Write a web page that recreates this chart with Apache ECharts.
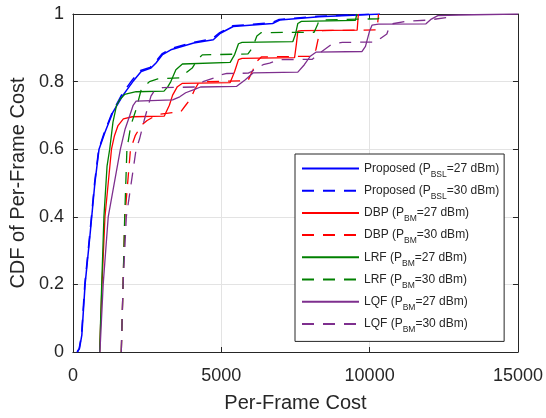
<!DOCTYPE html>
<html>
<head>
<meta charset="utf-8">
<script src="https://cdn.jsdelivr.net/npm/echarts@6/dist/echarts.min.js"></script>
<style>
  html, body { margin: 0; padding: 0; background: #fff; }
  #chart { width: 546px; height: 418px; }
</style>
</head>
<body>
<div id="chart"></div>
<script>
// tick values
const costTicks = [0, 5000, 10000, 15000];
const cdfTicks = [0, 0.2, 0.4, 0.6, 0.8, 1];

// CDF curves, [cost, cdf]
const proposed27 = [[150,0],[220,0.01],[300,0.05],[410,0.2],[580,0.35],[740,0.5],[880,0.6],[1080,0.65],[1350,0.71],[1690,0.76],[2020,0.8],[2300,0.83],[2630,0.84],[2800,0.855],[3020,0.88],[3300,0.894],[4070,0.914],[4730,0.924],[4970,0.943],[5400,0.963],[6730,0.972],[6970,0.982],[8300,0.992],[9630,0.997],[10350,1]];
const proposed30 = [[140,0],[210,0.01],[290,0.05],[400,0.2],[570,0.35],[730,0.5],[870,0.6],[1060,0.65],[1330,0.71],[1670,0.765],[2000,0.805],[2280,0.833],[2600,0.842],[2780,0.858],[3000,0.882],[3280,0.897],[4050,0.916],[4700,0.927],[4950,0.945],[5380,0.965],[6700,0.974],[6950,0.984],[8250,0.993],[9600,0.998],[10200,1]];
const dbp27 = [[900,0],[980,0.2],[1080,0.4],[1300,0.6],[1400,0.64],[1520,0.67],[1700,0.69],[2000,0.696],[3080,0.698],[3250,0.73],[3360,0.76],[3520,0.785],[3690,0.795],[5300,0.797],[5450,0.83],[5580,0.865],[5700,0.869],[7470,0.871],[7530,0.91],[7580,0.949],[7700,0.951],[9580,0.952],[9620,1]];
const dbp30 = [[1630,0],[1690,0.2],[1750,0.4],[1940,0.6],[2100,0.64],[2300,0.67],[2500,0.685],[2860,0.703],[3350,0.708],[3630,0.71],[3800,0.73],[3970,0.75],[4100,0.776],[4230,0.795],[4500,0.8],[5900,0.803],[6070,0.835],[6200,0.86],[6350,0.873],[8080,0.875],[8190,0.895],[8300,0.94],[8400,0.951],[10250,0.953],[10300,1]];
const lrf27 = [[900,0],[970,0.2],[1045,0.4],[1150,0.55],[1240,0.6],[1350,0.68],[1470,0.73],[1580,0.747],[1740,0.762],[2130,0.77],[3070,0.772],[3200,0.785],[3300,0.8],[3470,0.835],[3690,0.852],[5300,0.857],[5450,0.88],[5580,0.912],[5700,0.916],[7410,0.918],[7500,0.94],[7580,0.972],[7700,0.978],[9520,0.981],[9570,1]];
const lrf30 = [[1630,0],[1690,0.2],[1745,0.4],[1820,0.6],[1950,0.67],[2130,0.718],[2300,0.776],[2580,0.8],[2860,0.808],[3600,0.811],[3800,0.825],[4020,0.84],[4200,0.865],[4360,0.879],[5900,0.882],[6050,0.9],[6200,0.935],[6350,0.945],[8130,0.946],[8250,0.97],[8300,0.982],[10300,0.986],[10350,1]];
const lqf27 = [[910,0],[1020,0.2],[1190,0.4],[1600,0.6],[1760,0.66],[1910,0.698],[2030,0.73],[2130,0.742],[3360,0.746],[3600,0.755],[3800,0.767],[4080,0.776],[4300,0.784],[5520,0.786],[5800,0.805],[6080,0.826],[7580,0.828],[7800,0.85],[8000,0.875],[8190,0.887],[9740,0.889],[9860,0.904],[10000,0.95],[10080,0.967],[10300,0.97],[11900,0.971],[12080,0.985],[12300,0.995],[13000,0.997],[15000,1]];
const lqf30 = [[1630,0],[1690,0.2],[1800,0.4],[2130,0.6],[2245,0.63],[2410,0.688],[2630,0.757],[2740,0.772],[3020,0.782],[4130,0.784],[4300,0.795],[4410,0.801],[4740,0.81],[5000,0.82],[5190,0.824],[5910,0.825],[6020,0.83],[6410,0.85],[6630,0.855],[6970,0.865],[8070,0.866],[8400,0.89],[8740,0.912],[9080,0.916],[10220,0.917],[10400,0.93],[10580,0.941],[10700,0.97],[11190,0.978],[11970,0.982],[12630,0.99],[12800,1]];

const seriesNames = [
  "Proposed (PBSL=27 dBm)", "Proposed (PBSL=30 dBm)",
  "DBP (PBM=27 dBm)", "DBP (PBM=30 dBm)",
  "LRF (PBM=27 dBm)", "LRF (PBM=30 dBm)",
  "LQF (PBM=27 dBm)", "LQF (PBM=30 dBm)"
];
const legendLabels = [
  "{t|Proposed (P}{s|BSL}{t|=27 dBm)}", "{t|Proposed (P}{s|BSL}{t|=30 dBm)}",
  "{t|DBP (P}{s|BM}{t|=27 dBm)}", "{t|DBP (P}{s|BM}{t|=30 dBm)}",
  "{t|LRF (P}{s|BM}{t|=27 dBm)}", "{t|LRF (P}{s|BM}{t|=30 dBm)}",
  "{t|LQF (P}{s|BM}{t|=27 dBm)}", "{t|LQF (P}{s|BM}{t|=30 dBm)}"
];
const seriesData = [proposed27, proposed30, dbp27, dbp30, lrf27, lrf30, lqf27, lqf30];
const seriesColors = ["#0000ff", "#0000ff", "#ff0000", "#ff0000", "#008000", "#008000", "#7e2f8e", "#7e2f8e"];
const seriesDashed = [false, true, false, true, false, true, false, true];

const font = "'Liberation Sans', Arial, Helvetica, sans-serif";
const ink = "#262626";

const chart = echarts.init(document.getElementById("chart"));

const series = seriesData.map((data, i) => ({
  name: seriesNames[i],
  type: "line",
  data: data,
  symbol: "none",
  smooth: false,
  lineStyle: {
    color: seriesColors[i],
    width: i < 2 ? 1.5 : 1.3,
    type: seriesDashed[i] ? [12, 9] : "solid"
  },
  itemStyle: { color: seriesColors[i] }
}));

const xCommon = {
  type: "value",
  min: costTicks[0],
  max: costTicks[costTicks.length - 1],
  interval: costTicks[1] - costTicks[0]
};
const yCommon = {
  type: "value",
  min: cdfTicks[0],
  max: cdfTicks[cdfTicks.length - 1],
  interval: 0.2
};

chart.setOption({
  animation: false,
  backgroundColor: "#fff",
  textStyle: { fontFamily: font, color: ink },
  grid: { left: 71, right: 26, top: 14, bottom: 64, containLabel: false },
  legend: {
    data: seriesNames,
    orient: "vertical",
    left: 295,
    top: 154,
    padding: [4, 5, 7, 6],
    itemWidth: 57,
    itemHeight: 14,
    itemGap: 1.2,
    selectedMode: false,
    backgroundColor: "#fff",
    borderColor: ink,
    borderWidth: 1,
    borderRadius: 0,
    itemStyle: { opacity: 0 },
    formatter: (name) => legendLabels[seriesNames.indexOf(name)],
    textStyle: {
      fontFamily: font,
      color: ink,
      rich: {
        t: { fontSize: 12, lineHeight: 22, color: ink, fontFamily: font },
        s: { fontSize: 8.5, lineHeight: 10, padding: [12, 0, 0, 0], color: ink, fontFamily: font }
      }
    }
  },
  xAxis: [
    Object.assign({}, xCommon, {
      position: "bottom",
      name: "Per-Frame Cost",
      nameLocation: "middle",
      nameGap: 41,
      nameTextStyle: { fontSize: 20, color: ink, fontFamily: font },
      axisLine: { show: true, onZero: false, lineStyle: { color: ink, width: 1 } },
      axisTick: { show: true, inside: true, length: 5, lineStyle: { color: ink } },
      axisLabel: { fontSize: 18, color: ink, margin: 15, formatter: (v) => String(v) },
      splitLine: { show: true, lineStyle: { color: "#e3e3e3", width: 1 } }
    }),
    Object.assign({}, xCommon, {
      position: "top",
      axisLine: { show: true, onZero: false, lineStyle: { color: ink, width: 1 } },
      axisTick: { show: true, inside: true, length: 5, lineStyle: { color: ink } },
      axisLabel: { show: false },
      splitLine: { show: false }
    })
  ],
  yAxis: [
    Object.assign({}, yCommon, {
      position: "left",
      name: "CDF of Per-Frame Cost",
      nameLocation: "middle",
      nameGap: 41,
      nameTextStyle: { fontSize: 20, color: ink, fontFamily: font },
      axisLine: { show: true, onZero: false, lineStyle: { color: ink, width: 1 } },
      axisTick: { show: true, inside: true, length: 5, lineStyle: { color: ink } },
      axisLabel: { fontSize: 18, color: ink, margin: 9, formatter: (v) => String(+v.toFixed(1)) },
      splitLine: { show: true, lineStyle: { color: "#e3e3e3", width: 1 } }
    }),
    Object.assign({}, yCommon, {
      position: "right",
      axisLine: { show: true, onZero: false, lineStyle: { color: ink, width: 1 } },
      axisTick: { show: true, inside: true, length: 5, lineStyle: { color: ink } },
      axisLabel: { show: false },
      splitLine: { show: false }
    })
  ],
  series: series
});
</script>
</body>
</html>
